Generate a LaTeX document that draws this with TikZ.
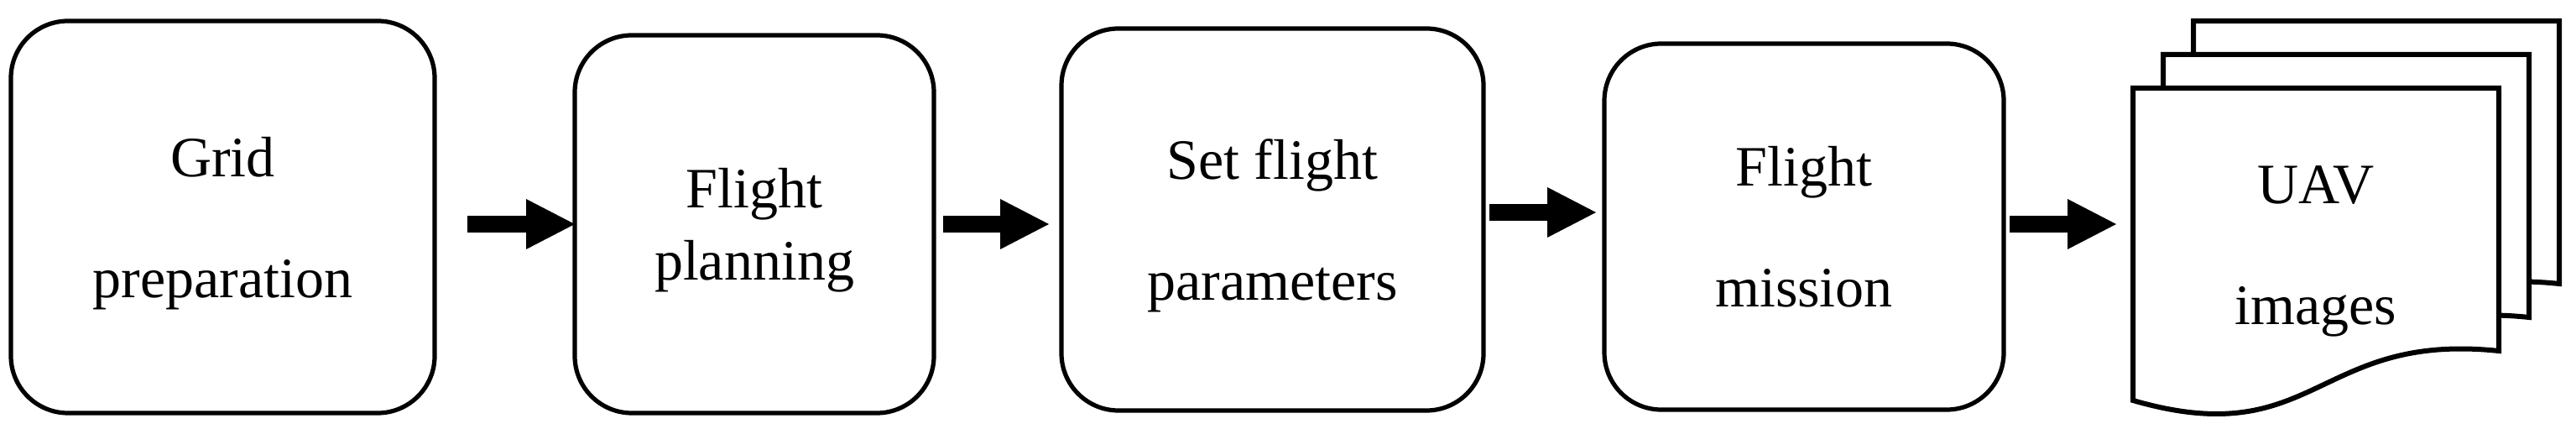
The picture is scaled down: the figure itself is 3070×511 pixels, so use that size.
\documentclass[tikz,border=0pt]{standalone}
\usepackage{fontspec}
\setmainfont{Liberation Serif}
\usetikzlibrary{arrows.meta}
\newcommand\mystrut{\rule[-3.8pt]{0pt}{19.6pt}}
\tikzset{
  stepbox/.style={draw, line width=1.3pt, rounded corners=17pt, inner sep=0pt, outer sep=0pt,
    align=center, font=\fontsize{17pt}{36pt}\selectfont},
  tightbox/.style={stepbox, font=\fontsize{17pt}{21.5pt}\selectfont},
  doctext/.style={inner sep=0pt, outer sep=0pt, align=center, font=\fontsize{17pt}{36pt}\selectfont},
  sheet/.style={draw, fill=white, line width=1.5pt, line join=miter},
  blockarrow/.style={line width=5pt, -{Triangle[length=14.5pt,width=15pt,line width=0pt]}},
}
\begin{document}
\begin{tikzpicture}[x=0.25pt, y=-0.25pt]
\fill[white] (0,0) rectangle (3070,511);
\useasboundingbox (0,0) rectangle (3070,511);

% process boxes
\node[stepbox, minimum width=126.25pt, minimum height=116.75pt] (b1) at (265.5,258.5)
  {Grid\mystrut\\preparation\mystrut};
\node[tightbox, minimum width=107pt, minimum height=112.5pt] (b2) at (899,267)
  {Flight\mystrut\\planning\mystrut};
\node[stepbox, minimum width=125.75pt, minimum height=113.75pt] (b3) at (1516.5,261.5)
  {Set flight\mystrut\\parameters\mystrut};
\node[stepbox, minimum width=119pt, minimum height=109pt] (b4) at (2150,270)
  {Flight\mystrut\\mission\mystrut};

% stacked documents (back to front)
\draw[sheet] (2614,25) -- (3050,25) -- (3050,338)
  .. controls (2832,315) and (2832,460) .. (2614,397) -- cycle;
\draw[sheet] (2578,65) -- (3014,65) -- (3014,378)
  .. controls (2796,355) and (2796,500) .. (2578,437) -- cycle;
\draw[sheet] (2542,105) -- (2978,105) -- (2978,418)
  .. controls (2760,395) and (2760,540) .. (2542,477) -- cycle;
\node[doctext, minimum width=109pt] (doc) at (2760,291) {UAV\mystrut\\images\mystrut};

% connectors
\coordinate (a1) at (557,267);
\coordinate (a2) at (1124,267);
\coordinate (a3) at (1775,253);
\coordinate (a4) at (2395,267);
\draw[blockarrow] (a1) -- (a1 -| b2.west);
\draw[blockarrow, shorten >=3.75pt] (a2) -- (a2 -| b3.west);
\draw[blockarrow, shorten >=2.5pt] (a3) -- (a3 -| b4.west);
\draw[blockarrow, shorten >=5pt] (a4) -- (a4 -| doc.west);
\end{tikzpicture}
\end{document}
